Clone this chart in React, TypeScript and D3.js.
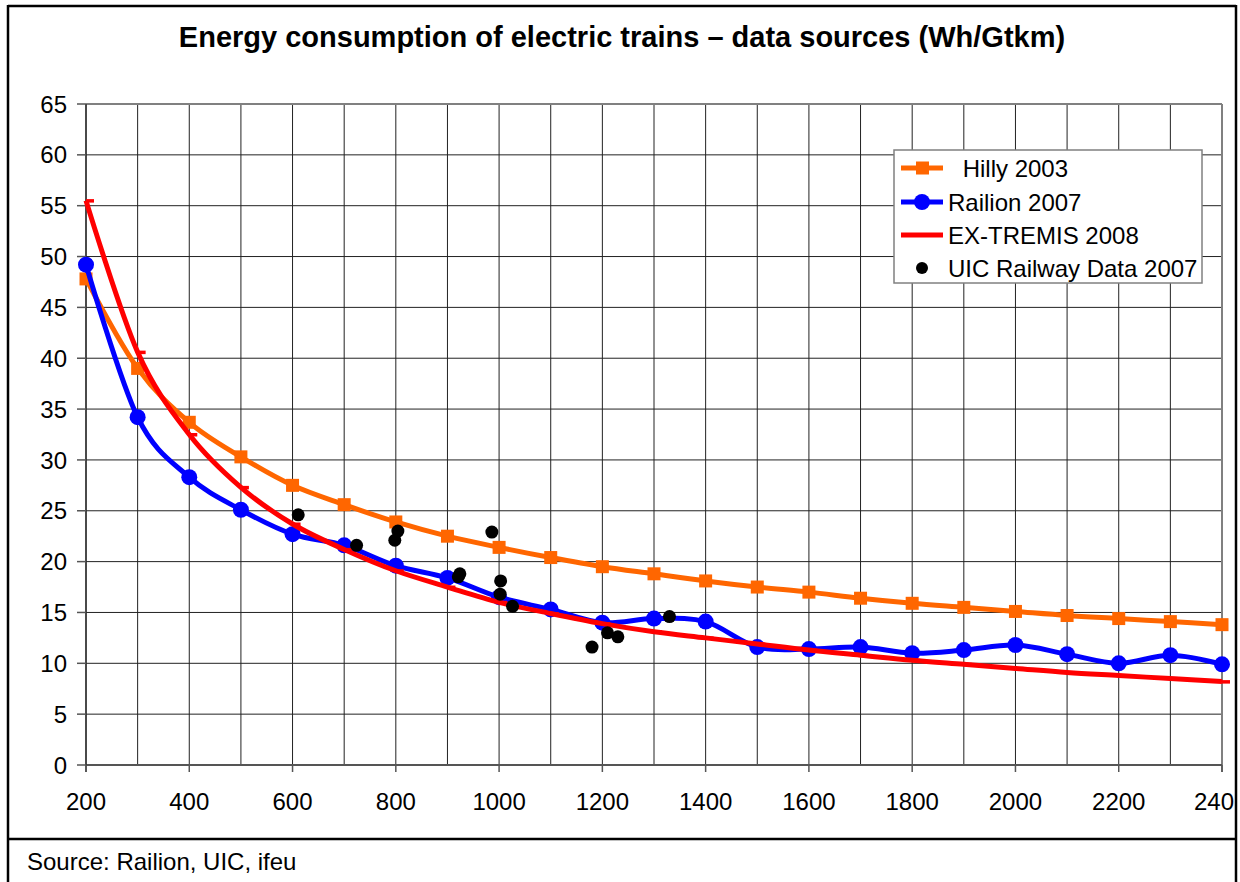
import React from "react";
import * as d3 from "d3";

const xValues = [200, 300, 400, 500, 600, 700, 800, 900, 1000, 1100, 1200, 1300, 1400, 1500, 1600, 1700, 1800, 1900, 2000, 2100, 2200, 2300, 2400];
const hilly2003 = [47.8, 39.0, 33.7, 30.3, 27.5, 25.6, 23.9, 22.5, 21.4, 20.4, 19.5, 18.8, 18.1, 17.5, 17.0, 16.4, 15.9, 15.5, 15.1, 14.7, 14.4, 14.1, 13.8];
const railion2007 = [49.2, 34.2, 28.3, 25.1, 22.7, 21.6, 19.6, 18.4, 16.5, 15.3, 14.0, 14.4, 14.1, 11.6, 11.4, 11.6, 11.0, 11.3, 11.8, 10.9, 10.0, 10.8, 9.9];
const extremis2008 = [55.5, 40.6, 32.5, 27.3, 23.7, 21.2, 19.1, 17.5, 16.0, 14.9, 13.9, 13.1, 12.5, 11.9, 11.3, 10.8, 10.3, 9.9, 9.5, 9.1, 8.8, 8.5, 8.2];
const uicX = [611, 724, 804, 798, 924, 921, 986, 1003, 1002, 1026, 1180, 1210, 1230, 1330];
const uicY = [24.6, 21.6, 23.0, 22.1, 18.8, 18.5, 22.9, 18.1, 16.8, 15.6, 11.6, 13.0, 12.6, 14.6];
const xTicks = [200, 400, 600, 800, 1000, 1200, 1400, 1600, 1800, 2000, 2200, 2400];
const xTickLabels = ["200", "400", "600", "800", "1000", "1200", "1400", "1600", "1800", "2000", "2200", "240"];
const yTicks = [0, 5, 10, 15, 20, 25, 30, 35, 40, 45, 50, 55, 60, 65];
const legendLabels = [" Hilly 2003", "Railion 2007", "EX-TREMIS 2008", "UIC Railway Data 2007"];

const ORANGE = "#FF6600";
const BLUE = "#0000FF";
const RED = "#FF0000";
const FONT = "'Liberation Sans', Arial, sans-serif";

export default function App() {
  const W = 1240, H = 882;
  const x = d3.scaleLinear().domain([200, 2400]).range([86, 1222]);
  const y = d3.scaleLinear().domain([0, 65]).range([765, 104]);
  const gridX = d3.range(200, 2401, 100);

  const line = d3
    .line<[number, number]>()
    .x((d) => x(d[0]))
    .y((d) => y(d[1]))
    .curve(d3.curveCatmullRom.alpha(0));

  const hPts = xValues.map((v, i) => [v, hilly2003[i]] as [number, number]);
  const rPts = xValues.map((v, i) => [v, railion2007[i]] as [number, number]);
  const ePts = xValues.map((v, i) => [v, extremis2008[i]] as [number, number]);

  const legY = [168, 202, 235, 268];

  return (
    <svg width={W} height={H} style={{ position: "absolute", left: 0, top: 0, background: "#fff" }} fontFamily={FONT}>
      <rect x={0} y={0} width={W} height={H} fill="#fff" />
      {/* outer frame */}
      <line x1={8} y1={6} x2={1236} y2={6} stroke="#000" strokeWidth={2.5} />
      <line x1={8} y1={5} x2={8} y2={H} stroke="#000" strokeWidth={2.5} />
      <line x1={1236} y1={5} x2={1236} y2={H} stroke="#000" strokeWidth={2.5} />
      <line x1={8} y1={839} x2={1236} y2={839} stroke="#000" strokeWidth={2.5} />

      <text x={622} y={47} textAnchor="middle" fontWeight="bold" fontSize={29} fill="#000">
        Energy consumption of electric trains – data sources (Wh/Gtkm)
      </text>

      {/* gridlines */}
      {yTicks.map((t) => (
        <line key={"gy" + t} x1={x(200)} x2={x(2400)} y1={y(t)} y2={y(t)} stroke="#222" strokeWidth={1} />
      ))}
      {gridX.map((t) => (
        <line key={"gx" + t} x1={x(t)} x2={x(t)} y1={y(0)} y2={y(65)} stroke="#222" strokeWidth={1} />
      ))}
      {/* plot border */}
      <line x1={x(200)} x2={x(2400)} y1={y(65)} y2={y(65)} stroke="#808080" strokeWidth={2} />
      <line x1={x(2400)} x2={x(2400)} y1={y(65)} y2={y(0) + 7} stroke="#808080" strokeWidth={2} />
      <line x1={x(200)} x2={x(2400)} y1={y(0)} y2={y(0)} stroke="#555" strokeWidth={2} />
      <line x1={x(200)} x2={x(200)} y1={y(65)} y2={y(0) + 7} stroke="#333" strokeWidth={1.5} />

      {/* ticks */}
      {yTicks.map((t) => (
        <g key={"yt" + t}>
          <line x1={77} x2={86} y1={y(t)} y2={y(t)} stroke="#555" strokeWidth={1.5} />
          <text x={67} y={y(t)} dy="0.36em" textAnchor="end" fontSize={24} fill="#000">
            {t}
          </text>
        </g>
      ))}
      {xTicks.map((t, i) => (
        <g key={"xt" + t}>
          <line x1={x(t)} x2={x(t)} y1={y(0)} y2={y(0) + 7} stroke="#555" strokeWidth={1.5} />
          <text
            x={i === xTicks.length - 1 ? 1234 : x(t)}
            y={810}
            textAnchor={i === xTicks.length - 1 ? "end" : "middle"}
            fontSize={24}
            fill="#000"
          >
            {xTickLabels[i]}
          </text>
        </g>
      ))}

      {/* Hilly */}
      <path d={line(hPts) || ""} fill="none" stroke={ORANGE} strokeWidth={5} />
      {hPts.map((p, i) => (
        <rect key={"h" + i} x={x(p[0]) - 6.5} y={y(p[1]) - 6.5} width={13} height={13} fill={ORANGE} />
      ))}
      {/* Railion */}
      <path d={line(rPts) || ""} fill="none" stroke={BLUE} strokeWidth={5} />
      {rPts.map((p, i) => (
        <circle key={"r" + i} cx={x(p[0])} cy={y(p[1])} r={8} fill={BLUE} />
      ))}
      {/* EX-TREMIS */}
      <path d={line(ePts) || ""} fill="none" stroke={RED} strokeWidth={5} />
      {ePts.map((p, i) => (
        <rect key={"e" + i} x={x(p[0])} y={y(p[1]) - 1.5} width={8} height={3.5} fill={RED} />
      ))}
      {/* UIC */}
      {uicX.map((v, i) => (
        <circle key={"u" + i} cx={x(v)} cy={y(uicY[i])} r={6.5} fill="#000" />
      ))}

      {/* legend */}
      <rect x={894} y={150} width={308} height={133} fill="#fff" stroke="#808080" strokeWidth={1.5} />
      <line x1={901} x2={943} y1={legY[0]} y2={legY[0]} stroke={ORANGE} strokeWidth={5} />
      <rect x={916} y={legY[0] - 6.5} width={13} height={13} fill={ORANGE} />
      <line x1={901} x2={943} y1={legY[1]} y2={legY[1]} stroke={BLUE} strokeWidth={5} />
      <circle cx={922} cy={legY[1]} r={8} fill={BLUE} />
      <line x1={901} x2={943} y1={legY[2]} y2={legY[2]} stroke={RED} strokeWidth={5} />
      <circle cx={922} cy={legY[3]} r={6} fill="#000" />
      {legendLabels.map((s, i) => (
        <text key={"l" + i} x={i === 0 ? 956 : 948} y={legY[i]} dy="0.36em" fontSize={24} fill="#000" xmlSpace="preserve">
          {s}
        </text>
      ))}

      <text x={27} y={870} fontSize={24} fill="#000">
        Source: Railion, UIC, ifeu
      </text>
    </svg>
  );
}
